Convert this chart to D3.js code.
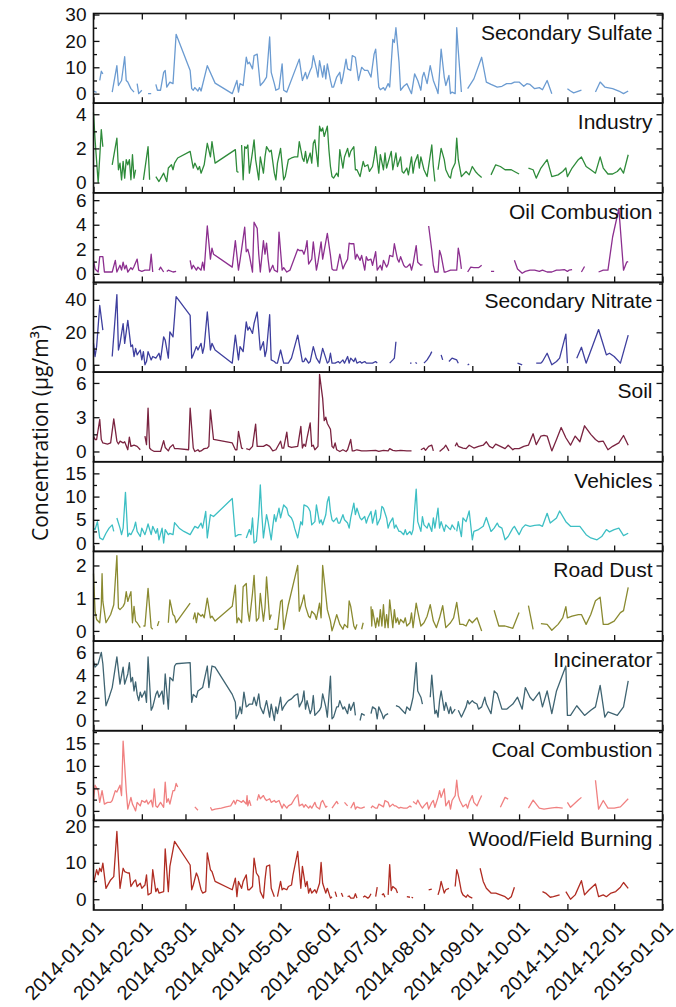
<!DOCTYPE html>
<html>
<head>
<meta charset="utf-8">
<script src="https://cdn.jsdelivr.net/npm/d3@7"></script>
<style>
  body { margin: 0; background: #fff; }
  text { font-family: "Liberation Sans", Arial, Helvetica, sans-serif; fill: #111; }
</style>
</head>
<body>
<svg id="chart" width="676" height="1007"></svg>
<script>
// day offsets are counted from 2014-01-01, null value = gap in the record
const startDay = Date.UTC(2014, 0, 1);
const endDay = Date.UTC(2015, 0, 1);

const sourceNames = ["Secondary Sulfate", "Industry", "Oil Combustion", "Secondary Nitrate", "Soil",
  "Vehicles", "Road Dust", "Incinerator", "Coal Combustion", "Wood/Field Burning"];
const lineColors = ["#6b9bd1", "#2e8b3a", "#8c2f8f", "#3e3f9e", "#7a2340",
  "#3dbfc4", "#8a8a30", "#3f6472", "#f08080", "#b02c22"];
const yDomains = [[-3.6, 30.4], [-0.6, 4.65], [-0.7, 6.6], [-4.5, 50.7], [-0.9, 6.95],
  [-1.8, 17.5], [-0.31, 2.43], [-0.9, 7.0], [-2.1, 17.8], [-2.95, 21.65]];
const yTicks = [[0, 10, 20, 30], [0, 2, 4], [0, 2, 4, 6], [0, 20, 40], [0, 3, 6],
  [0, 5, 10, 15], [0, 1, 2], [0, 2, 4, 6], [0, 5, 10, 15], [0, 10, 20]];

const sulfate = [[0,1],[2,0.5],[3,null],[4,5],[5,8.5],[6,7.5],[9,null],[12,0.6],[15,10.6],[16,3.1],[18,5],[20,14],[21,5],[22,4.4],[24,1.9],[26,0.6],[27,null],[28,3.8],[29,0],[31,1.3],[33,null],[35,0],[37,0],[38,null],[40,3.5],[41,1.3],[43,1.3],[45,8.1],[46,8.8],[47,2.5],[49,4.4],[51,3.8],[53,22.5],[62,8.8],[63,1.9],[64,1.3],[65,2.3],[67,1],[68,2.3],[69,1],[73,10.6],[78,4],[89,0],[92,5],[93,0.6],[94,3.8],[96,3.1],[98,13.8],[99,11.3],[100,11.9],[102,9.4],[103,14.4],[105,15],[107,3.1],[109,4.4],[111,6.3],[113,21.5],[114,8.1],[116,3.8],[117,1.3],[119,1.9],[121,11.3],[122,1.3],[124,0.6],[132,13.1],[134,5],[136,8.1],[137,5.6],[139,8.8],[140,10],[141,14.4],[143,9.4],[144,6.3],[145,12.5],[147,6.3],[148,10.6],[149,5.6],[150,11.3],[152,5],[153,2.5],[154,2.5],[156,6.3],[158,8.1],[159,3.8],[160,6.3],[162,13.1],[163,9.4],[165,8.8],[166,14.4],[168,13.8],[170,5],[172,10],[173,9.4],[174,8.8],[176,8.8],[178,6.3],[180,15],[181,16.9],[183,2.5],[184,1.5],[186,2.3],[187,1.3],[189,3.8],[190,2.5],[192,20.6],[193,19.4],[194,25],[196,11.9],[197,1.3],[199,2.8],[201,3.8],[204,0],[206,7.5],[208,5],[210,1.3],[211,6.3],[212,8.1],[214,3.8],[216,10.6],[218,5],[220,1.9],[221,0],[222,8.1],[223,16.9],[225,6.3],[226,3.1],[228,6.9],[229,0],[230,0.6],[232,0],[233,25],[234,16.3],[236,0.6],[238,null],[240,1.9],[244,5.6],[249,13.8],[252,4.4],[255,3.5],[259,2.5],[262,2.8],[265,3.8],[268,3.8],[270,4.4],[273,4.4],[276,2.8],[278,3.8],[280,3.5],[283,1.9],[286,2.3],[288,1.5],[291,5],[294,0],[299,null],[304,1.9],[306,1],[308,0.3],[313,1.3],[318,null],[322,0.6],[325,4.4],[328,2.5],[333,1.9],[337,1],[340,0],[343,1]];

const industry = [[0,4.1],[1,2.5],[3,0],[4,1.5],[5,3.1],[6,2.1],[9,null],[12,1.04],[15,2.6],[16,0.75],[17,1.14],[18,0.16],[19,1.24],[20,0.26],[21,1.34],[22,1.04],[23,1.34],[24,0.16],[25,1.63],[26,0.26],[27,0.75],[29,null],[32,0.16],[35,2.1],[36,0.16],[38,null],[40,0.35],[42,0.06],[45,0.55],[47,0.06],[48,0.85],[50,1.04],[51,0.75],[52,1.14],[54,1.44],[62,1.83],[64,0.85],[65,1.14],[67,0.75],[68,0.94],[69,0.55],[71,1.04],[73,2.3],[75,1.5],[76,2.4],[78,1.14],[91,1.93],[92,0.65],[93,0.6],[94,null],[95,2.2],[96,0.16],[97,2.1],[98,2.0],[99,2.2],[100,0.55],[102,1.8],[103,2.5],[104,1.34],[106,0.16],[107,1.5],[109,0.55],[110,1.5],[111,2.1],[113,1.8],[114,1.9],[116,0.55],[117,0.16],[118,1.14],[120,2.0],[122,0.16],[123,0.35],[125,1.34],[127,1.44],[129,1.5],[131,1.5],[132,2.4],[134,1.44],[135,1.24],[136,1.83],[137,1.14],[139,1.73],[140,1.14],[141,2.3],[142,2.5],[144,0.94],[145,3.3],[146,3.0],[147,3.2],[148,2.7],[150,3.3],[151,1.93],[152,0.94],[153,0.35],[154,0.26],[156,0.55],[157,0.35],[158,1.93],[160,0.85],[161,1.5],[163,2.0],[164,1.5],[165,1.83],[167,2.1],[168,0.75],[169,0.75],[171,0.35],[173,1.24],[174,0.94],[176,1.04],[177,0.65],[179,0.94],[180,1.44],[181,2.1],[183,0.55],[184,1.63],[186,0.75],[187,1.73],[188,0.85],[190,1.5],[191,1.83],[192,0.75],[194,1.73],[195,0.94],[197,1.5],[198,0.65],[199,0.55],[201,0.85],[202,0.45],[204,1.5],[205,0.55],[206,1.14],[208,1.63],[209,0.85],[210,1.5],[212,0.75],[214,0.35],[217,2.2],[218,0.94],[219,0.06],[220,null],[221,0.75],[223,2.0],[225,1.34],[226,0.75],[228,0.35],[229,0.26],[230,0.75],[232,1.14],[233,2.6],[234,1.34],[236,0.35],[239,0.65],[241,0.45],[243,0.94],[245,0.65],[247,0.45],[249,0.3],[252,null],[255,0.45],[258,1.04],[261,0.94],[264,0.75],[268,0.75],[270,0.65],[273,0.5],[276,null],[279,0.85],[282,0.75],[284,0.26],[287,0.85],[291,1.34],[294,0.35],[298,0.45],[301,0.65],[303,0.85],[304,0.35],[307,0.85],[311,1.34],[313,1.5],[316,0.94],[319,0.75],[322,0.55],[325,1.5],[327,0.85],[330,0.5],[333,0.5],[336,0.65],[338,0.85],[340,0.55],[343,1.63]];

const oilCombustion = [[0,1.1],[1,0.4],[3,0.15],[4,1.4],[6,1.4],[7,0.15],[9,0.15],[12,0.15],[14,1.1],[15,0.15],[17,0.7],[18,0.3],[19,0.95],[20,0.4],[21,0.7],[22,0.15],[24,0.5],[25,0.35],[26,0.6],[28,1.2],[29,0.3],[31,0.2],[33,0.3],[35,0.3],[36,0.3],[37,1.6],[38,0.15],[39,null],[42,0.3],[43,0.55],[45,0.15],[46,null],[47,0.2],[48,0.3],[51,0.15],[53,0.2],[56,null],[62,1.1],[63,0.4],[64,0.7],[66,0.3],[67,0.55],[69,0.3],[70,0.95],[71,0.3],[73,3.9],[75,1.2],[76,2.1],[77,1.6],[89,0.55],[91,2.7],[93,0.3],[94,1.1],[95,2.0],[97,3.8],[98,1.8],[99,2.0],[100,1.5],[102,0.15],[103,4.2],[105,3.7],[106,1.6],[107,0.15],[109,2.7],[110,1.6],[111,2.5],[112,1.2],[113,0.15],[115,0.7],[116,0.3],[118,0.15],[119,3.4],[121,0.3],[122,0.5],[124,0.15],[126,0.3],[131,2.0],[132,1.9],[134,1.9],[135,1.6],[136,2.0],[137,2.7],[138,0.8],[140,1.2],[141,2.6],[143,0.3],[144,0.95],[146,2.6],[147,1.2],[149,2.6],[150,3.3],[152,1.5],[153,0.4],[154,0.3],[156,0.3],[158,1.6],[160,0.4],[161,0.7],[163,1.2],[164,2.5],[165,2.45],[167,2.45],[168,1.2],[169,1.6],[171,1.1],[172,1.5],[174,0.3],[175,1.4],[176,1.1],[178,1.2],[179,0.7],[181,1.8],[182,0.3],[184,0.7],[185,0.3],[186,1.1],[188,0.55],[189,0.8],[190,1.5],[192,1.4],[193,2.45],[194,1.8],[195,1.2],[196,0.95],[197,1.4],[199,0.7],[200,0.55],[201,0.55],[203,0.8],[204,0.3],[205,0.8],[207,2.3],[208,0.95],[210,0.7],[211,0.75],[213,null],[215,3.9],[217,1.9],[218,0.7],[219,0.15],[221,0.15],[222,1.9],[223,1.5],[225,0.15],[226,0.15],[229,0.3],[233,0.3],[234,2.1],[235,1.4],[236,0.4],[238,null],[240,0.15],[242,0.55],[244,0.5],[247,0.5],[249,0.7],[252,null],[255,0.2],[257,0.2],[260,null],[270,1.1],[272,0.4],[275,0.05],[277,0.2],[280,0.3],[283,0.3],[286,0.2],[288,0.3],[291,0.15],[294,0.15],[297,0.3],[299,0.3],[302,0.35],[304,0.2],[305,0.3],[307,0.35],[309,null],[313,0.15],[315,0.6],[318,null],[324,0.15],[327,0.3],[330,0.3],[333,3.0],[337,5.3],[340,0.3],[342,0.95],[343,1.0]];

const secondaryNitrate = [[0,13.2],[1,5.1],[2,11.2],[4,36.5],[6,21.3],[8,null],[12,5.1],[15,43.2],[16,9.1],[17,13.2],[19,25.4],[20,13.2],[22,27.4],[24,11.2],[25,12.2],[26,5.1],[27,10.1],[28,6.1],[30,9.1],[31,3],[32,8.1],[33,0],[34,2],[35,8.1],[37,3],[38,5.1],[40,4.1],[42,7.1],[43,3],[45,17.2],[46,15.2],[48,4.1],[49,20.3],[51,17.2],[52,29.4],[53,42],[62,30.4],[63,4.1],[64,6.1],[66,11.2],[67,9.1],[69,13.2],[70,7.1],[71,11.2],[73,32.5],[75,9.1],[76,13.2],[78,9.1],[89,1],[91,18.3],[93,3],[94,11.2],[96,8.1],[98,26.4],[99,21.3],[100,23.3],[102,19.3],[103,25.4],[105,32.5],[107,9.1],[109,14.2],[110,5.1],[111,9.1],[113,30.8],[114,3],[116,2],[117,1],[118,1],[120,9.1],[122,1],[123,1],[125,1],[127,4.1],[129,11.2],[131,18.3],[134,2],[135,2],[136,4.1],[138,1],[139,2],[141,11.2],[143,4.1],[145,1],[147,10.1],[150,1],[151,2],[152,7.1],[153,1],[155,1],[157,2],[158,1],[160,3],[161,1],[163,5.1],[164,1],[165,4.1],[167,2],[168,4.1],[169,1],[171,2],[172,1],[174,2],[175,1],[177,1],[179,1],[181,2],[182,1],[185,null],[190,1],[192,3],[193,4.1],[194,14.2],[196,null],[203,1],[204,1],[205,null],[206.5,1.4],[207.5,0.8],[208,null],[212,1],[214,3],[216,6.1],[217,8.1],[219,null],[223,6.1],[224,3],[226,null],[228,2],[230,4.1],[233,3],[234,1],[237,null],[240,0],[241,0.4],[243,null],[272,1],[275,0],[278,null],[284,1],[287,1],[288,2],[291,7.1],[294,0],[297,2],[299,4.1],[303,18.9],[304,1],[306,null],[310,4.1],[313,10.8],[316,1],[320,11.2],[324,21.7],[329,6.1],[331,7.1],[334,5.1],[338,1],[343,18.3]];

const soil = [[0,1.35],[1,1.05],[2,1.05],[4,2.8],[5,1.05],[6,0.75],[9,0.65],[11,0.75],[13,2.85],[15,0.9],[16,0.65],[17,0.9],[19,0.75],[20,0.85],[22,0.15],[23,1.25],[24,0.45],[26,0.55],[28,0.45],[30,0.15],[32,null],[33,1.35],[34,0.6],[35,3.8],[36,0.3],[37,0.15],[39,0],[41,0],[43,0],[45,0.95],[46,0.35],[48,0.05],[49,0.35],[51,0.6],[52,0.25],[54,0.25],[61,0.15],[62,3.8],[64,0.3],[65,0],[67,0.15],[68,0],[69,0.05],[71,0.25],[73,0.3],[74,0.45],[75,3.65],[77,1.05],[89,0.75],[91,0.15],[92,0.15],[93,1.75],[95,0.3],[96,0.25],[97,null],[98,0.25],[100,0.15],[102,0.45],[104,2.4],[105,0.45],[107,0.45],[109,0.45],[111,0.6],[113,0.45],[115,0.05],[117,0.15],[120,0.9],[121,0.3],[122,0.3],[124,1.7],[125,0.45],[127,0.35],[131,0.45],[133,2.2],[134,0.3],[135,0.65],[136,0.45],[137,1.2],[139,2.5],[140,0.45],[141,0.55],[142,0.15],[144,0.45],[145,6.75],[147,4.65],[148,2.7],[149,3.0],[150,2.45],[152,1.95],[153,0.45],[154,0.3],[155,0.75],[156,0.15],[158,0],[160,0.15],[162,0],[163,0.15],[165,1.05],[166,0.05],[167,0.05],[169,0.15],[172,0.05],[175,0.05],[181,0.1],[183,0],[186,0.1],[189,0.05],[190,0.25],[192,0.1],[194,0.05],[197,0.1],[201,0.05],[204,0.05],[206,null],[210,0.15],[212,0.3],[213,0.1],[215,0.45],[217,0.55],[218,0.05],[219,null],[222,0],[225,0.35],[226,0.55],[228,0.05],[230,null],[232,0.45],[233,0.75],[234,0.45],[237,0.3],[239,0.25],[241,0.55],[244,0.3],[247,0.45],[250,0.55],[252,0.85],[254,0.45],[256,0.3],[258,0.65],[261,0.45],[264,0.25],[266,0.55],[269,0.15],[270,0.25],[273,0.25],[276,0.45],[279,0.55],[282,1.55],[284,0.6],[287,1.35],[289,1.4],[291,1.35],[294,0.05],[297,1.05],[300,2.1],[303,1.2],[306,0.55],[309,1.35],[312,0.85],[315,2.25],[319,1.5],[322,1.05],[324,0.85],[327,0.9],[330,0.15],[333,0.45],[337,0.75],[340,1.4],[343,0.55]];

const vehicles = [[0,3.2],[1,2.9],[2.5,4.6],[4,1.1],[6,0.7],[8,2.1],[10,3.2],[12,3.9],[13,2.5],[14,null],[15,5.4],[17,3.2],[18,1.8],[19,3.2],[20.5,10.9],[22,1.4],[23,2.1],[24,1.8],[26,3.2],[27,4.5],[28,2.5],[30,1.4],[31,3.2],[33,1.8],[34,2.9],[35,4.1],[37,1.8],[38,3.6],[40,2.1],[41,3.1],[42,0.7],[44,3.2],[45,0],[46,2.9],[48,1.8],[49,2.1],[51,1.8],[52,4.4],[55,3.2],[58,2.5],[62,1.8],[65,3.6],[67,3.2],[69,4.3],[70,3.2],[72,6.8],[73,1.1],[75,6.1],[77,5.7],[89,9.6],[91,1.4],[93,1.8],[95,1.8],[96,null],[98,1.1],[100,2.9],[101,1.8],[102,5.4],[103,0],[104.5,0.4],[106,6.1],[107,12.5],[108,6.1],[109,1.1],[111,6.1],[112,4.6],[114,0.7],[115,3.6],[116,6.1],[117,4.6],[119,7.5],[120,5.4],[121,6.8],[122,8.2],[124,7.5],[125,6.1],[127,5.4],[128,4.6],[129,3.2],[131,1.1],[133,4.6],[134,3.9],[135,8.2],[137,7.9],[138,7.5],[139,6.8],[140,3.9],[142,4.6],[143,8.2],[145,4.3],[146,5],[147,3.9],[149,6.1],[150,8.9],[151,10],[152,6.8],[153,5],[154,4.6],[156,5.4],[157,4.3],[158,4.3],[160,6.1],[161,5],[163,4.3],[164,3.2],[165,5.4],[167,8.6],[168,6.1],[169,7.5],[171,5.4],[172,5],[174,5.7],[175,4.3],[176,5.4],[178,6.8],[179,4.3],[181,7.1],[182,3.9],[184,5.4],[185,7.9],[186,7.5],[188,5.4],[189,3.2],[190,4.3],[192,5.4],[193,3.2],[194,3.9],[196,2.5],[197,2.5],[199,1.8],[200,2.9],[201,1.8],[203,2.5],[204,1.8],[205,2.9],[207,11.6],[208,4.6],[210,2.5],[211,5.7],[212,3.9],[214,3.2],[215,4.3],[217,2.5],[218,5.4],[219,3.2],[221,7.5],[222,3.2],[223,4.6],[225,2.5],[226,3.9],[228,3.2],[229,2.9],[230,3.9],[232,2.9],[232.5,null],[233,2.5],[234,4.6],[236,1.4],[237,5.4],[239,4.6],[241,6.9],[243,0.7],[244,2.5],[247,2.9],[250,3.6],[252,5.5],[255,2.5],[257,3.2],[259,4.3],[260,3.6],[262,3.2],[264,0.7],[266,1.4],[269,3.2],[270,3.6],[273,1.8],[275,3.2],[277,3.9],[280,3.6],[283,3.8],[286,3.9],[288,3.6],[291,6.4],[293,4.3],[297,5.4],[299,6.9],[303,4.6],[306,3.6],[309,3.6],[312,3.6],[316,1.8],[319,1.1],[323,0.7],[326,1.4],[329,2.9],[331,2.4],[334,2.9],[337,3.2],[340,1.6],[343,2.1]];

const roadDust = [[0,1.75],[1,0.6],[2,0.35],[4,0.25],[5,0.8],[5.5,1.75],[6,0.9],[8,0.25],[11,0.5],[13,0.8],[15,2.3],[16,0.7],[17,0.65],[19,0.75],[20,0.85],[21,1.2],[22,0.9],[24,1.2],[25,0.25],[26,0.75],[27,0.3],[28,0.25],[30,0.1],[31,null],[32,0.15],[33,0.15],[35,1.3],[37,0.1],[38,0.05],[39,null],[41,0.15],[42,0.3],[44,null],[48,0.25],[49,0.95],[51,0.5],[52,0.45],[53,0.25],[62,0.85],[62.5,null],[64,0.35],[65,0.55],[66,0.25],[67,0.55],[69,0.45],[70,0.5],[71,0.4],[73,1.0],[75,0.4],[76,0.45],[78,0.3],[89,0.75],[91,1.4],[92,0.25],[93,0.4],[95,0.25],[96,1.35],[98,1.45],[99,0.6],[100,0.3],[102,1.15],[103,1.7],[104.5,0.3],[106,0.4],[107,1.15],[109,0.3],[110,0.7],[111,1.65],[113,0.35],[114,0.5],[115,null],[116,0.05],[118,0.05],[120,0.9],[121,0.95],[122,0.05],[125,0.8],[131,2.0],[132,0.6],[134,0.9],[135,1.1],[136,0.75],[138,0.45],[139,0.4],[140,0.6],[142,0.5],[143,0.35],[145,0.85],[146,0.4],[147,2.0],[149,1.1],[150,0.65],[152,0.3],[153,0],[154,0.15],[156,0.5],[158,0.2],[160,0.05],[161,0.2],[163,0.1],[164,0.92],[165,0.75],[167,0.15],[168,0.05],[169,0.2],[170,null],[172,0.05],[173,0.25],[175,null],[178,0.75],[178.5,0.15],[179,0.65],[181,0.1],[182,0.4],[183,0.15],[184,0.65],[185,0.15],[186,0.8],[187,0.1],[188,0.5],[189,0.1],[190,0.95],[192,0.1],[193,0.65],[194,0.25],[195,0.4],[196,0.2],[197,0.35],[199,0.25],[200,0.4],[201,0.15],[203,0.25],[204,0.55],[205,0.1],[207,0.85],[208,0.6],[210,0.15],[212,0.25],[214,0.45],[216,0.8],[218,0.3],[220,0.1],[222,0.4],[224,0.77],[226,0.1],[229,0.25],[231,0.4],[233,0.87],[235,0.2],[237,0.2],[239,0.15],[241,0.35],[243,0.25],[246,0.4],[249,0],[252,null],[257,0.63],[260,0.15],[264,0.15],[269,0.08],[273,0.56],[275,null],[279,0.77],[282,0.05],[284,null],[287,0.22],[291,0.2],[294,0.02],[298,0.2],[301,0.4],[303,0.74],[304,0.4],[307,0.45],[311,0.5],[313,0.5],[316,0.2],[319,0.5],[322,0.92],[325,1.03],[327,0.2],[330,0.2],[334,0.3],[338,0.56],[340,0.62],[343,1.33]];

const incinerator = [[0,5.25],[1,4.7],[3,5.0],[5,6.0],[6,5.0],[8,1.3],[10,2.05],[12,2.9],[13,3.8],[15,5.6],[16,4.4],[17,3.2],[19,4.7],[20,3.2],[22,4.1],[23,5.1],[24,3.4],[25,3.8],[26,2.6],[27,3.4],[28,2.3],[29,1.75],[30,2.5],[31,2.05],[33,2.6],[34,1.6],[35,5.6],[37,0.9],[38,1.2],[40,2.3],[41,2.6],[42,2.05],[44,2.6],[45,1.45],[46,4.1],[48,1.0],[49,3.8],[51,3.5],[52,4.8],[53,5.0],[62,5.1],[63,1.6],[64,2.3],[66,2.05],[67,2.6],[70,2.9],[73,4.8],[74,2.9],[76,4.8],[78,4.7],[89,2.3],[91,1.6],[91.5,0.15],[93,0.6],[94,1.2],[95,0.6],[96.5,2.5],[98,1.2],[99,1.3],[100,1.45],[102,1.45],[103,2.05],[104.5,1.3],[106,2.35],[107,1.2],[109,0.6],[110,1.2],[111,1.75],[113,0.3],[114,1.45],[116,0],[117,1.2],[118,0.6],[120,2.05],[121,0.9],[122,1.2],[124,1.6],[125,1.75],[127,1.9],[128,2.05],[129,2.2],[131,2.35],[132,1.2],[134,1.75],[135,2.6],[136,1.0],[137,1.75],[139,0.6],[140,1.0],[141,2.2],[142,0.45],[143,0.6],[145,0.9],[146,1.2],[147,2.35],[149,1.2],[150,0.3],[152,3.9],[153,0.15],[154,0.3],[156,1.2],[157,1.2],[158,1.75],[160,1.0],[161,1.2],[163,0.6],[164,1.45],[165,0.9],[167,1.6],[168,0.45],[169,null],[171,0],[172,0.6],[174,0.45],[175,null],[178,0.6],[179,1.2],[181,1.0],[182,0.15],[183,1.2],[185,0.6],[186,0.15],[187,0.45],[189,0.6],[191,null],[194,1.3],[196,1.2],[198,0.9],[200,0.6],[201,1.2],[203,0.9],[204,1.45],[205,2.05],[207,5.1],[208,2.6],[210,2.05],[211,1.45],[213,null],[216,2.05],[217,4.0],[219,0.6],[220,0.9],[221,0.3],[222,1.75],[223,2.6],[225,0.9],[226,1.6],[228,0.6],[229,1.2],[230,0.6],[232,1.0],[233,null],[234,0.9],[236,0.3],[237,0.6],[239,1.2],[240,1.75],[241,1.45],[243,1.75],[244,1.6],[246,1.45],[247,1.0],[249,1.2],[251,2.05],[252,1.45],[255,0.6],[257,2.6],[259,2.35],[262,1.0],[265,1.0],[269,1.45],[272,2.05],[275,1.0],[277,2.9],[280,2.05],[282,1.75],[286,2.5],[288,1.2],[291,2.6],[294,0.6],[297,2.6],[303,4.8],[304,0.45],[306,0.45],[310,1.3],[315,0.45],[319,0.9],[322,1.2],[325,3.1],[328,0.3],[330,0.75],[333,0.6],[336,0.45],[340,1.2],[343,3.5]];

const coalCombustion = [[0,2.3],[1,5.7],[3,4.5],[4,1.9],[5.5,4.5],[7,1.5],[9,1.9],[11,1.9],[12,2.3],[14,4.5],[15,4.2],[17,5.7],[18,3.4],[19,15.5],[21,4.5],[22,0.4],[24,3.0],[25,1.5],[26,0.8],[27,0],[28,1.9],[30,1.1],[31,2.3],[33,1.9],[34,2.4],[35,1.5],[37,2.4],[38,0.9],[39,4.9],[40,1.1],[41,0.8],[43,1.9],[45,0.8],[46,6.4],[47,1.9],[48,2.7],[49,1.5],[51,4.5],[52,4.5],[53,6.1],[54,5.3],[58,null],[65,0.9],[67,0.15],[70,null],[75,0.8],[76,0.15],[78,0.4],[82,0.6],[85,0.9],[88,1.1],[90,2.3],[91,1.5],[92,2.4],[93,2.3],[95,1.9],[96,2.3],[98,1.5],[98.5,3.4],[99,1.1],[100,2.3],[101,1.1],[102,null],[105,2.3],[106,3.6],[107,2.7],[109,3.4],[110,2.7],[111,2.3],[113,2.7],[114,1.9],[116,2.3],[117,1.9],[119,2.3],[121,0.6],[122,1.5],[124,0.6],[125,1.1],[127,1.5],[129,2.7],[131,3.6],[132,1.1],[134,1.5],[135,0.8],[136,1.4],[138,0.6],[139,1.1],[140,0.6],[142,1.9],[143,0.9],[145,0.4],[146,1.9],[147,2.3],[149,0.8],[150,1.1],[151,null],[153,0.6],[154,1.1],[156,2.1],[157,1.5],[159,null],[161,1.9],[163,1.1],[164,null],[165,0.6],[167,1.9],[168,0.4],[169,0.9],[171,0.6],[172,0.6],[174,0.9],[176,null],[178,0.6],[179,1.1],[181,0.6],[182,0.6],[183,1.5],[185,1.1],[186,0.9],[187,2.3],[189,1.9],[190,0.9],[192,1.5],[193,1.1],[194,1.1],[196,0.6],[197,0.8],[199,0.6],[200,0.6],[201,0.6],[203,1.1],[204,0.8],[204.5,null],[205,2.1],[207,1.5],[208,2.4],[210,1.1],[211,0.6],[212,1.1],[214,1.9],[215,0.4],[217,1.9],[218,2.3],[219,0.8],[221,3.0],[222,4.5],[223,3.0],[225,4.9],[226,1.1],[228,2.3],[229,0.4],[230,2.3],[232,3.4],[233,6.8],[234,3.4],[235,2.3],[237,0.9],[239,1.5],[240,0.6],[241,1.9],[243,3.4],[244,1.9],[246,1.1],[247,1.9],[249,3.4],[252,null],[261,0.8],[264,3.0],[266,2.6],[268,null],[279,0.6],[282,2.4],[286,0.6],[289,0.4],[293,0.6],[297,0.8],[301,0.6],[302,null],[304,1.9],[306,0.8],[311,2.4],[313,3.0],[316,null],[322,6.8],[324,0.4],[327,2.3],[330,0.6],[334,0.6],[338,0.9],[343,2.7]];

const woodBurning = [[0,4.4],[1,6.2],[2,8.1],[3,6.7],[4,8.5],[5,7.6],[6,9.9],[8,3.0],[11,5.3],[13,6.2],[15,18.6],[17,3.0],[19,8.5],[20,7.6],[22,7.2],[23,7.2],[24,3.5],[26,4.9],[27,5.3],[28,3.5],[30,4.4],[31,3.0],[33,3.9],[34,6.7],[35,1.2],[37,1.7],[38,8.1],[40,2.1],[41,3.0],[42,1.7],[45,2.1],[46,13.8],[48,2.1],[49,9.0],[52,15.9],[62,9.4],[63,2.6],[64,3.9],[66,7.2],[67,6.2],[69,2.6],[70,1.7],[72,2.1],[73,12.7],[75,8.1],[76,7.6],[78,4.9],[89,2.6],[91,5.8],[92,0.7],[93,4.9],[95,3.0],[96,4.9],[98,6.7],[99,2.6],[100,2.6],[102,3.5],[103,11.3],[104.5,7.2],[106,6.2],[107,2.1],[109,0.3],[110,5.3],[111,9.0],[113,9.4],[114,3.0],[116,0.7],[117,null],[118,0.7],[120,4.9],[121,2.6],[122,3.0],[124,2.6],[125,3.5],[127,3.9],[128,6.7],[131,13.1],[133,3.0],[134,9.0],[136,3.5],[137,4.9],[138,1.7],[139,3.0],[140,1.7],[142,2.6],[143,1.7],[145,4.4],[146,10.1],[147,4.4],[149,1.7],[150,3.0],[152,0.3],[153,0.7],[154,null],[155,2.1],[156,0.7],[157,null],[159,1.7],[160,0.7],[161,null],[163,0.7],[164,0.9],[165,0.3],[167,0.3],[168,1.5],[169,0.3],[170,null],[173,0.55],[174,0.9],[176,0.3],[177,0.7],[178,1.5],[179,null],[181,0.7],[182,3.3],[183,null],[185,1.2],[186,1.5],[187,0.55],[188,null],[189,1.2],[190,9.5],[191,2.4],[192,3.5],[194,2.8],[195,1.7],[197,null],[201,0.7],[203,0.55],[203.5,null],[204,0.55],[205,0.4],[207,null],[215,2.6],[217,2.8],[219,null],[221,1.2],[222,2.6],[223,4.9],[225,1.7],[226,2.6],[228,3.0],[230,null],[232,3.5],[233,8.1],[234,6.7],[236,2.1],[237,1.2],[239,0.55],[240,1.2],[241,0.7],[243,0.3],[245,null],[248,8.5],[250,4.9],[252,3.0],[255,1.7],[258,1.7],[261,1.2],[264,0.7],[266,0],[268,0.7],[270,3.3],[275,null],[288,2.1],[290,1.7],[293,0.55],[295,0.7],[299,1.2],[301,null],[303,2.1],[306,0],[309,1.2],[313,5.1],[315,1.2],[318,2.6],[322,4.2],[324,0.7],[327,1.2],[329,0.7],[332,1.7],[335,2.1],[338,3.3],[340,4.6],[343,3.0]];

const seriesList = [sulfate, industry, oilCombustion, secondaryNitrate, soil,
  vehicles, roadDust, incinerator, coalCombustion, woodBurning];

const plotLeft = 93.5, plotRight = 662.5, plotTop = 13.5, panelH = 89.65;
const nPanels = seriesList.length;
const plotBottom = plotTop + nPanels * panelH;

const svg = d3.select("#chart");
const toDate = d => new Date(startDay + d * 864e5);

const x = d3.scaleUtc()
  .domain([new Date(startDay), new Date(endDay)])
  .range([plotLeft, plotRight]);
const monthTicks = x.ticks(d3.utcMonth.every(1));

seriesList.forEach((series, i) => {
  const y0 = plotTop + i * panelH, y1 = y0 + panelH;
  const y = d3.scaleLinear().domain(yDomains[i]).range([y1, y0]);
  const major = yTicks[i];
  const step = major[1] - major[0];
  const minor = major.map(v => v + step / 2).filter(v => v < yDomains[i][1]);

  const g = svg.append("g").attr("class", "panel");

  const line = d3.line()
    .defined(d => d[1] != null)
    .x(d => x(toDate(d[0])))
    .y(d => y(d[1]));

  g.append("path")
    .datum(series)
    .attr("fill", "none")
    .attr("stroke", lineColors[i])
    .attr("stroke-width", 1.3)
    .attr("stroke-linejoin", "round")
    .attr("d", line);

  // y axes, ticks pointing inward
  const left = g.append("g").attr("transform", `translate(${plotLeft},0)`)
    .call(d3.axisLeft(y).tickValues(major).tickSize(-6).tickPadding(7).tickFormat(d3.format("d")));
  left.selectAll("text").style("font-size", "19px").attr("fill", "#111");
  g.append("g").attr("transform", `translate(${plotLeft},0)`)
    .call(d3.axisLeft(y).tickValues(minor).tickSize(-3.5).tickFormat(""));
  g.append("g").attr("transform", `translate(${plotRight},0)`)
    .call(d3.axisRight(y).tickValues(major).tickSize(-6).tickFormat(""));
  g.append("g").attr("transform", `translate(${plotRight},0)`)
    .call(d3.axisRight(y).tickValues(minor).tickSize(-3.5).tickFormat(""));

  // month ticks on the bottom edge
  g.append("g").attr("transform", `translate(0,${y1})`)
    .call(d3.axisBottom(x).tickValues(monthTicks).tickSize(-6).tickFormat(""));
  if (i === 0) {
    g.append("g").attr("transform", `translate(0,${y0})`)
      .call(d3.axisTop(x).tickValues(monthTicks).tickSize(-6).tickFormat(""));
  }

  g.selectAll(".domain").remove();
  g.selectAll(".tick line").attr("stroke", "#111").attr("stroke-width", 1.3);

  g.append("rect")
    .attr("x", plotLeft).attr("y", y0)
    .attr("width", plotRight - plotLeft).attr("height", panelH)
    .attr("fill", "none").attr("stroke", "#111").attr("stroke-width", 1.6);

  g.append("text")
    .attr("x", plotRight - 10)
    .attr("y", y0 + 26)
    .attr("text-anchor", "end")
    .style("font-size", "21px")
    .text(sourceNames[i]);
});

// date labels under the last panel
svg.append("g").selectAll("text")
  .data(monthTicks)
  .join("text")
  .attr("transform", d => `translate(${x(d) + 2},${plotBottom + 9}) rotate(-45)`)
  .attr("text-anchor", "end")
  .attr("dy", "0.7em")
  .style("font-size", "20px")
  .text(d3.utcFormat("%Y-%m-%d"));

svg.append("text")
  .attr("transform", "translate(42,433) rotate(-90)")
  .attr("text-anchor", "middle")
  .attr("dominant-baseline", "middle")
  .style("font-family", "'Open Sans', 'Noto Sans', sans-serif")
  .style("font-size", "21px")
  .text("Concentration (μg/m³)");
</script>
</body>
</html>
